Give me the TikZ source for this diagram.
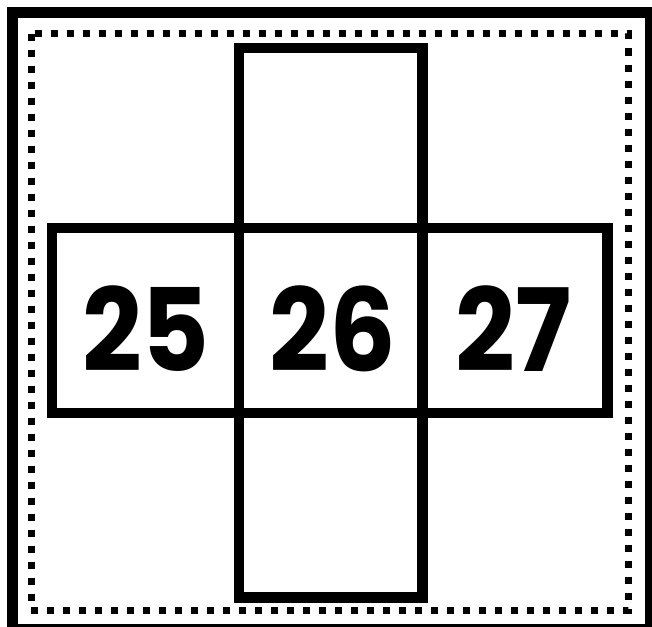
\documentclass[tikz,border=0pt]{standalone}
\usepackage{fontspec}
\setmainfont{Poppins}
\tikzset{
  cell/.style={draw, line width=10.5pt, outer sep=0pt, inner sep=0pt, minimum width=#1},
  numtext/.style={font=\fontsize{115}{115}\selectfont\bfseries\addfontfeature{FakeStretch=0.91}, inner sep=0pt}
}
\begin{document}
\begin{tikzpicture}[x=1pt,y=-1pt]
\useasboundingbox (0,0) rectangle (652,626);
\clip (0,0) rectangle (652,626);
% frame
\draw[line width=11pt] (12,12.5) rectangle (650.5,629);
\draw[line width=7pt, dash pattern=on 7pt off 9pt] (31,34) rectangle (628.5,610);
% cross of cells
\node[cell=187pt, minimum height=185pt] (left) at (145.5,320.5) {};
\node[cell=183.5pt, minimum height=185pt] (mid) at (330.75,320.5) {};
\node[cell=185pt, minimum height=185pt] (right) at (515,320.5) {};
\node[cell=183.5pt, minimum height=180pt] (top) at (330.75,138) {};
\node[cell=183.5pt, minimum height=184.5pt] (bottom) at (330.75,505.25) {};
% numbers
\node[numtext] (n25) at (146,329) {25};
\node[numtext] (n26) at (333,329) {26};
\node[numtext] (n27) at (513.5,329) {27};
\end{tikzpicture}
\end{document}
